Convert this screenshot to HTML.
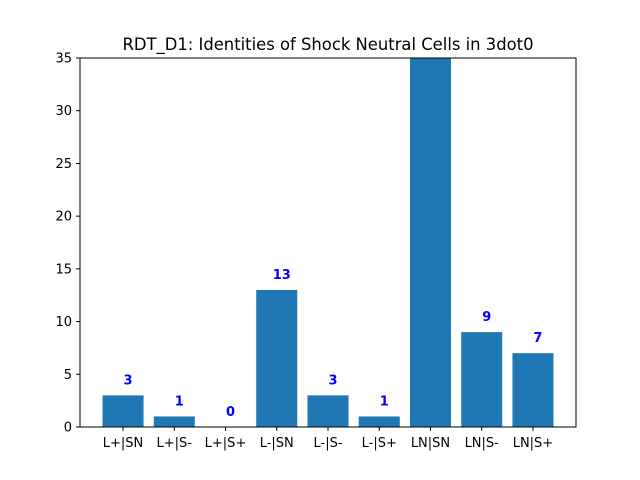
<!DOCTYPE html>
<html><head><meta charset="utf-8"><style>body{margin:0;background:#fff}svg{display:block}</style></head>
<body>
<svg id="c" width="640" height="480" xmlns="http://www.w3.org/2000/svg" font-family="'DejaVu Sans','Liberation Sans',sans-serif">
<rect width="640" height="480" fill="#fff"/>
<text x="328" y="50" font-size="16.4" text-anchor="middle">RDT_D1: Identities of Shock Neutral Cells in 3dot0</text>
<defs><clipPath id="ax"><rect x="80" y="58" width="496" height="369"/></clipPath></defs>
<g id="bars" clip-path="url(#ax)"></g>
<g id="labels"></g>
<g id="yt"></g><g id="xt"></g>
<rect x="80" y="58" width="496" height="369" fill="none" stroke="#000" stroke-width="1"/>
</svg>
<script>
const categories=["L+|SN","L+|S-","L+|S+","L-|SN","L-|S-","L-|S+","LN|SN","LN|S-","LN|S+"];
const values=[3,1,0,13,3,1,42,9,7];
const yTicks=[0,5,10,15,20,25,30,35];
const L=80,R=576,T=58,B=427,yMax=35,xMin=-0.84,xMax=8.84;
const y=v=>B-(v/yMax)*(B-T);
const x=i=>L+(i-xMin)/(xMax-xMin)*(R-L);
const bw=0.8*(R-L)/(xMax-xMin);
const ns="http://www.w3.org/2000/svg";
function mk(t,a,p){const e=document.createElementNS(ns,t);for(const k in a)e.setAttribute(k,a[k]);p.appendChild(e);return e;}
const gb=document.getElementById('bars'),gl=document.getElementById('labels'),gy=document.getElementById('yt'),gx=document.getElementById('xt');
values.forEach((v,i)=>{
 const r=mk('rect',{x:x(i)-bw/2,y:y(v),width:bw,height:B-y(v),fill:'#1f77b4'},gb);
 
 
 const t=mk('text',{x:x(i)+5,y:y(v)-11,'font-size':13,'font-weight':'bold',fill:'#0000ff','text-anchor':'middle'},gl);
 t.textContent=v;
 
 
 const tk=mk('line',{x1:x(i),x2:x(i),y1:B,y2:B+4,stroke:'#000'},gx);
 
 
 const tl=mk('text',{x:x(i),y:B+20,'font-size':13,'text-anchor':'middle'},gx);
 tl.textContent=categories[i];
 
 
});
yTicks.forEach(v=>{
 const tk=mk('line',{x1:L-4,x2:L,y1:y(v),y2:y(v),stroke:'#000'},gy);
 
 
 const tl=mk('text',{x:L-8,y:y(v)+4.5,'font-size':13,'text-anchor':'end'},gy);
 tl.textContent=v;
 
 
});
</script>
</body></html>
